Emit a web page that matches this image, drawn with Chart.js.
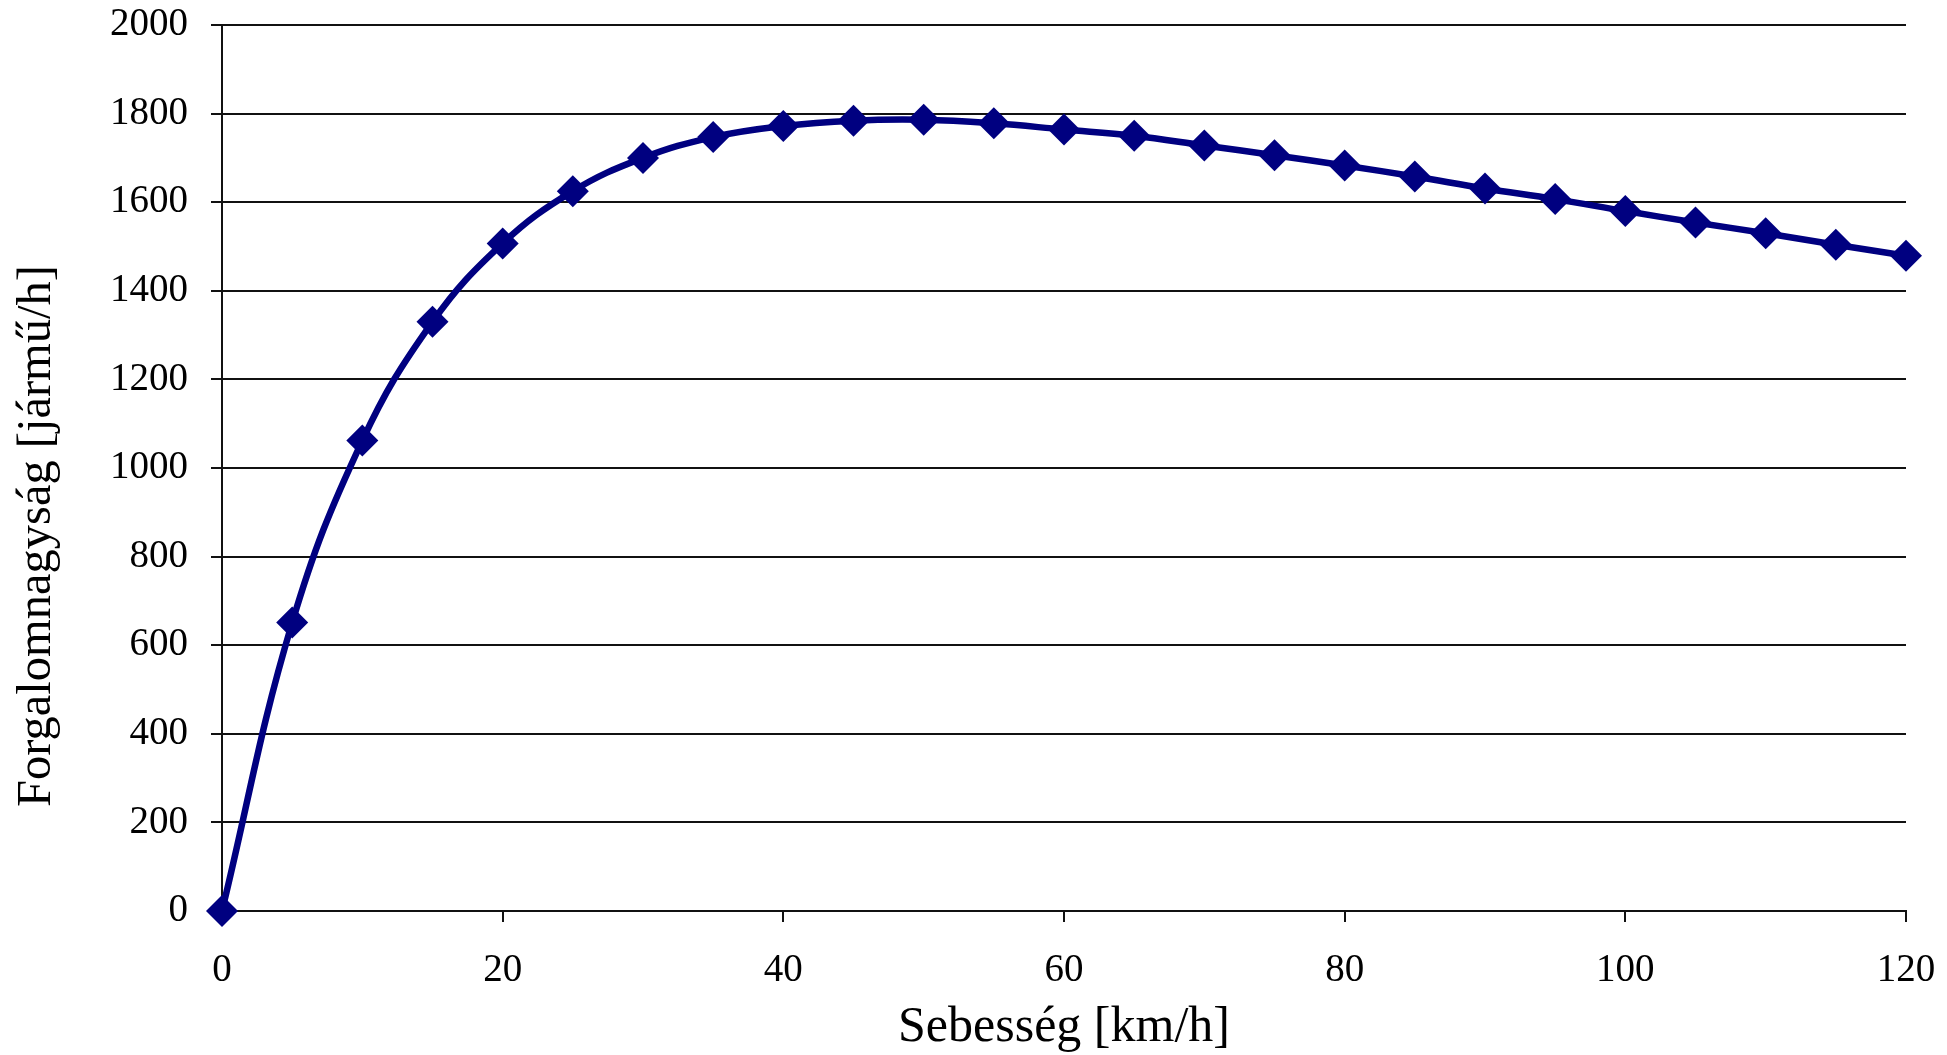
<!DOCTYPE html>
<html>
<head>
<meta charset="utf-8">
<script src="https://cdn.jsdelivr.net/npm/chart.js@4.4.1/dist/chart.umd.min.js"></script>
<style>
  html, body { margin: 0; padding: 0; background: #fff; }
  #chart { display: block; }
</style>
</head>
<body>
<canvas id="chart" width="1947" height="1055"></canvas>
<script>
const LINE_COLOR = '#000080';
const GRID_COLOR = '#111';
const FONT = "'Liberation Serif', 'Times New Roman', serif";

// speed [km/h]
const speeds = [0, 5, 10, 15, 20, 25, 30, 35, 40, 45, 50, 55, 60,
  65, 70, 75, 80, 85, 90, 95, 100, 105, 110, 115, 120];
// flow [vehicle/h]
const flows = [0, 651, 1062, 1330, 1507, 1625, 1700, 1747, 1772, 1784, 1786, 1778, 1764,
  1750, 1728, 1706, 1683, 1658, 1631, 1607, 1580, 1554, 1530, 1504, 1479];

const xTitle = 'Sebesség [km/h]';
const yTitle = 'Forgalomnagyság [jármű/h]';

const points = speeds.map((s, i) => ({ x: s, y: flows[i] }));

// y title sits a bit below the axis centre in the original, so draw it by hand
const yTitlePlugin = {
  id: 'yTitle',
  afterDraw(chart) {
    const ctx = chart.ctx;
    ctx.save();
    ctx.translate(37, 536);
    ctx.rotate(-Math.PI / 2);
    ctx.font = `48.5px ${FONT}`;
    ctx.fillStyle = '#000';
    ctx.textAlign = 'center';
    ctx.textBaseline = 'middle';
    ctx.fillText(yTitle, 0, 0);
    ctx.restore();
  },
};

new Chart(document.getElementById('chart'), {
  type: 'line',
  data: {
    datasets: [{
      data: points,
      borderColor: LINE_COLOR,
      backgroundColor: LINE_COLOR,
      borderWidth: 6.5,
      tension: 0.4,
      pointStyle: 'rectRot',
      pointRadius: 16,
      pointBorderWidth: 0,
      clip: false,
    }],
  },
  options: {
    responsive: false,
    animation: false,
    layout: { autoPadding: false, padding: { left: 0, right: 41, top: 25, bottom: 0 } },
    plugins: {
      legend: { display: false },
      tooltip: { enabled: false },
    },
    scales: {
      x: {
        type: 'linear',
        min: 0,
        max: 120,
        ticks: { stepSize: 20, color: '#000', padding: 25, font: { family: FONT, size: 39 }, callback: v => String(v) },
        grid: { drawOnChartArea: false, drawTicks: true, tickLength: 11, color: GRID_COLOR, lineWidth: 2 },
        border: { display: true, color: GRID_COLOR, width: 2 },
        title: { display: true, text: xTitle, color: '#000', padding: { top: 0, bottom: 1 }, font: { family: FONT, size: 50, lineHeight: 1.05 } },
        afterFit: (scale) => {
          scale.height = 144;
          scale.paddingLeft = 0;
          scale.paddingRight = 0;
        },
      },
      y: {
        min: 0,
        max: 2000,
        ticks: { stepSize: 200, color: '#000', padding: 23, font: { family: FONT, size: 39 }, callback: v => String(v) },
        grid: { drawOnChartArea: true, drawTicks: true, tickLength: 11, color: GRID_COLOR, lineWidth: 2 },
        border: { display: true, color: GRID_COLOR, width: 2 },
        title: { display: false },
        afterFit: (scale) => {
          scale.width = 222;
          scale.paddingTop = 0;
          scale.paddingBottom = 0;
        },
      },
    },
  },
  plugins: [yTitlePlugin],
});
</script>
</body>
</html>
